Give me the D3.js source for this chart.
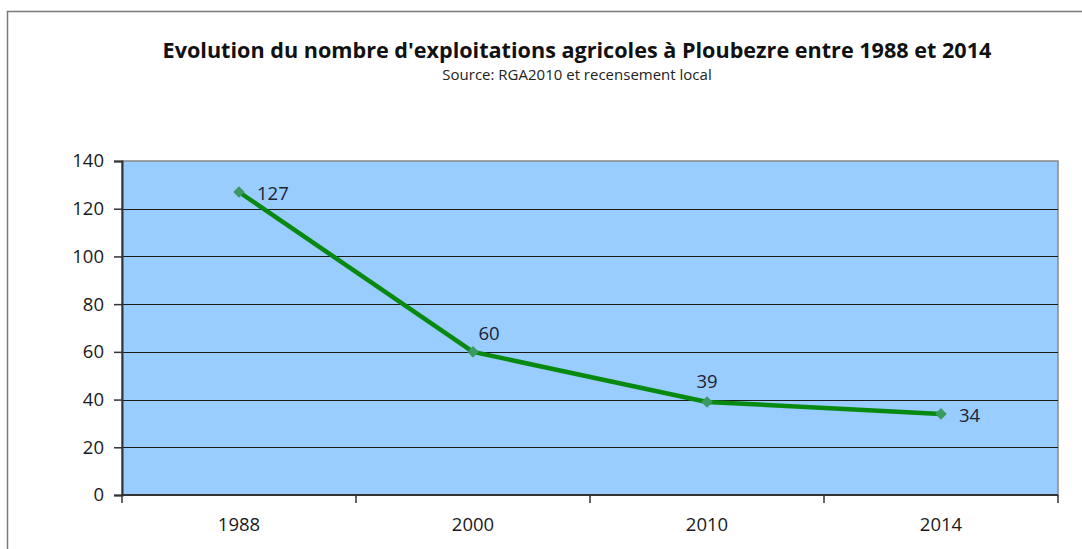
<!DOCTYPE html>
<html>
<head>
<meta charset="utf-8">
<script src="https://cdn.jsdelivr.net/npm/d3@7"></script>
<style>
  body { margin: 0; background: #fff; }
  svg text { font-family: 'Open Sans', sans-serif; }
</style>
</head>
<body>
<div id="chart"></div>
<script>
// Data
let years = ['1988', '2000', '2010', '2014'];
let farms = [127, 60, 39, 34];
let yTicks = [0, 20, 40, 60, 80, 100, 120, 140];
let labelPlace = ['right', 'aboveRight', 'above', 'right'];

let W = 1082, H = 549;
let margin = { left: 122, right: 24, top: 161, bottom: 54 };
let width = W - margin.left - margin.right;
let height = H - margin.top - margin.bottom;

var svg = d3.select('#chart')
    .append('svg')
        .attr('width', W)
        .attr('height', H);

// outer frame
svg.append('rect')
    .attr('x', 7.5)
    .attr('y', 11.5)
    .attr('width', W + 20)
    .attr('height', H + 20)
    .attr('fill', 'none')
    .attr('stroke', '#7a7a7a')
    .attr('stroke-width', 1.5);

// Title
svg.append('text')
    .attr('x', 577)
    .attr('y', 58)
    .attr('text-anchor', 'middle')
    .style('font-size', '21.6px')
    .style('font-weight', 'bold')
    .attr('fill', '#111')
    .text("Evolution du nombre d'exploitations agricoles à Ploubezre entre 1988 et 2014");

svg.append('text')
    .attr('x', 577)
    .attr('y', 80)
    .attr('text-anchor', 'middle')
    .style('font-size', '15px')
    .attr('fill', '#222')
    .text('Source: RGA2010 et recensement local');

var g = svg.append('g')
    .attr('transform', 'translate(' + margin.left + ', ' + margin.top + ')');

// X Scale
var X = d3.scalePoint()
    .domain(years)
    .range([0, width])
    .padding(0.5);

var band = width / years.length;

// Y Scale
var Y = d3.scaleLinear()
    .domain([0, 140])
    .range([height, 0]);

// plot background
g.append('rect')
    .attr('x', 0)
    .attr('y', 0)
    .attr('width', width)
    .attr('height', height)
    .attr('fill', '#99ccff')
    .attr('stroke', '#888')
    .attr('stroke-width', 1.5);

// gridlines
g.selectAll('.grid')
    .data(yTicks.filter(function (d) { return d > 0 && d < 140; }))
    .enter()
    .append('line')
        .attr('class', 'grid')
        .attr('x1', 0)
        .attr('x2', width)
        .attr('y1', function (d) { return Math.round(Y(d)) + 0.5; })
        .attr('y2', function (d) { return Math.round(Y(d)) + 0.5; })
        .attr('stroke', '#1a1a1a')
        .attr('stroke-width', 1.2);

// Y Axis
var yAxisCall = d3.axisLeft(Y)
    .tickValues(yTicks)
    .tickSize(8)
    .tickPadding(10);
var yAxis = g.append('g')
    .attr('class', 'y axis')
    .call(yAxisCall);
yAxis.select('.domain').attr('stroke', '#333').attr('stroke-width', 2);
yAxis.selectAll('.tick line').attr('stroke', '#333').attr('stroke-width', 1.5);
yAxis.selectAll('.tick text')
    .style('font-size', '18.5px')
    .style('font-family', "'Open Sans', sans-serif")
    .attr('fill', '#1a1a1a');

// X Axis (ticks between categories)
var xEdges = d3.range(years.length + 1).map(function (i) { return i * band; });
var xAxis = g.append('g')
    .attr('class', 'x axis')
    .attr('transform', 'translate(0,' + height + ')');
xAxis.append('line')
    .attr('x1', 0)
    .attr('x2', width)
    .attr('stroke', '#333')
    .attr('stroke-width', 2);
xAxis.selectAll('.xtick')
    .data(xEdges)
    .enter()
    .append('line')
        .attr('class', 'xtick')
        .attr('x1', function (d) { return d; })
        .attr('x2', function (d) { return d; })
        .attr('y1', 0)
        .attr('y2', 8)
        .attr('stroke', '#333')
        .attr('stroke-width', 1.5);
xAxis.selectAll('.xlabel')
    .data(years)
    .enter()
    .append('text')
        .attr('class', 'xlabel')
        .attr('x', function (d) { return X(d); })
        .attr('y', 36)
        .attr('text-anchor', 'middle')
        .style('font-size', '18.5px')
        .attr('fill', '#1a1a1a')
        .text(function (d) { return d; });

// Line
var pts = years.map(function (y, i) { return { year: y, value: farms[i], place: labelPlace[i] }; });

var line = d3.line()
    .x(function (d) { return X(d.year); })
    .y(function (d) { return Y(d.value); });

g.append('path')
    .datum(pts)
    .attr('d', line)
    .attr('fill', 'none')
    .attr('stroke', '#078a0f')
    .attr('stroke-width', 4.5)
    .attr('stroke-linejoin', 'round');

// markers
g.selectAll('.marker')
    .data(pts)
    .enter()
    .append('path')
        .attr('class', 'marker')
        .attr('d', d3.symbol().type(d3.symbolDiamond2).size(85))
        .attr('transform', function (d) { return 'translate(' + X(d.year) + ',' + Y(d.value) + ')'; })
        .attr('fill', '#3a9a62');

// data labels
var offsets = {
  right: { dx: 18, dy: 8, anchor: 'start' },
  aboveRight: { dx: 16, dy: -12, anchor: 'middle' },
  above: { dx: 0, dy: -14, anchor: 'middle' }
};
g.selectAll('.dlabel')
    .data(pts)
    .enter()
    .append('text')
        .attr('class', 'dlabel')
        .attr('x', function (d) { return X(d.year) + offsets[d.place].dx; })
        .attr('y', function (d) { return Y(d.value) + offsets[d.place].dy; })
        .attr('text-anchor', function (d) { return offsets[d.place].anchor; })
        .style('font-size', '18.5px')
        .attr('fill', '#1c2333')
        .text(function (d) { return d.value; });
</script>
</body>
</html>
